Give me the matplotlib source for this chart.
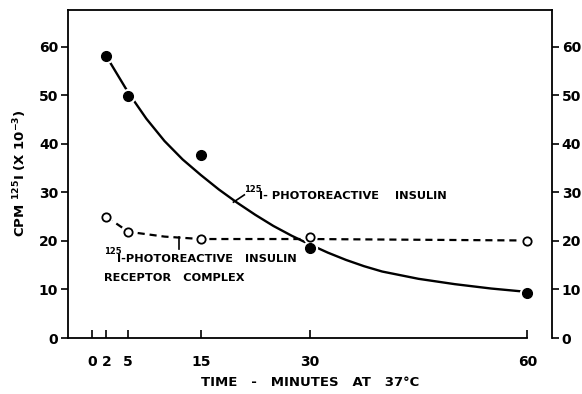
import matplotlib.pyplot as plt

plt.rcParams['font.family'] = 'DejaVu Sans'
plt.rcParams['font.weight'] = 'bold'
plt.rcParams['mathtext.default'] = 'regular'

# measured points (minutes, CPM x 10^-3)
t_pts = [2, 5, 15, 30, 60]
insulin = [58.1, 49.9, 37.7, 18.6, 9.3]
complex_ = [25.0, 21.9, 20.4, 20.8, 20.0]

# hand drawn curves
curve_t = [2.5, 5, 7.5, 10, 12.5, 15, 17.5, 20, 22.5, 25, 27.5, 30,
           32.5, 35, 37.5, 40, 45, 50, 55, 60]
curve_y = [56.8, 50.6, 45.2, 40.6, 36.8, 33.6, 30.6, 27.9, 25.4, 23.1, 21.1, 19.3,
           17.6, 16.1, 14.8, 13.7, 12.2, 11.1, 10.2, 9.5]
dash_t = [2, 5, 10, 15, 30, 60]
dash_y = [25.0, 21.9, 20.9, 20.4, 20.4, 20.1]

xticks = [0, 2, 5, 15, 30, 60]
yticks = [0, 10, 20, 30, 40, 50, 60]

fig = plt.figure(figsize=(5.82, 3.94), dpi=100)
ax = fig.add_axes([0.1168, 0.1421, 0.8317, 0.8325])

ax.plot(curve_t, curve_y, color='black', lw=1.7, zorder=2)
ax.plot(dash_t, dash_y, color='black', lw=1.6, ls=(0, (3.2, 2.2)), zorder=2)

# white halos give the gaps around the symbols
ax.plot(t_pts, insulin, 'o', ms=10, color='white', zorder=3)
ax.plot(t_pts, complex_, 'o', ms=9, color='white', zorder=3)
ax.plot(t_pts, insulin, 'o', ms=7, color='black', zorder=4)
ax.plot(t_pts, complex_, 'o', ms=6, mfc='white', mec='black', mew=1.3, zorder=5)

# pointers to labels
ax.plot([19.5, 21.0], [28.0, 29.5], color='black', lw=1.2)
ax.plot([12.0, 12.0], [20.9, 18.3], color='black', lw=1.2)

ax.text(21.0, 30.6, '125', fontsize=6, va='center', ha='left')
ax.text(23.0, 29.2, 'I- PHOTOREACTIVE    INSULIN', fontsize=8.2, va='center', ha='left')
ax.text(1.6, 17.9, '125', fontsize=6, va='center', ha='left')
ax.text(3.4, 16.2, 'I-PHOTOREACTIVE   INSULIN', fontsize=8.2, va='center', ha='left')
ax.text(1.7, 12.4, 'RECEPTOR   COMPLEX', fontsize=8.2, va='center', ha='left')

ax.set_xlim(-3.3, 63.4)
ax.set_ylim(0, 67.6)
ax.set_xticks(xticks)
ax.set_yticks(yticks)
ax.spines['bottom'].set_bounds(-3.3, 60)
for s in ax.spines.values():
    s.set_linewidth(1.3)

ax.tick_params(axis='x', direction='in', length=6, width=1.2, pad=12, labelsize=10)
ax.tick_params(axis='y', direction='out', length=5, width=1.2, labelsize=10, pad=2,
               right=True, labelright=True)

fig.text(310 / 582, 1 - 383 / 394, 'TIME   -   MINUTES   AT   37°C',
         fontsize=9.5, ha='center', va='center')
fig.text(20 / 582, 1 - 173 / 394, r'CPM $^{125}$I (X 10$^{-3}$)',
         fontsize=9.5, ha='center', va='center', rotation=90)

plt.savefig('out.png', dpi=100)
